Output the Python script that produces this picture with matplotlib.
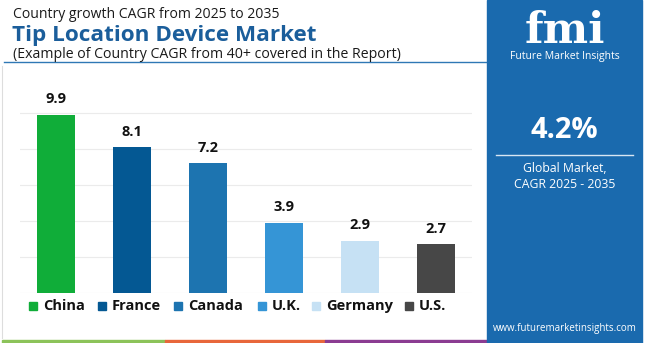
import matplotlib
matplotlib.use("Agg")
import matplotlib.pyplot as plt
from matplotlib.patches import Rectangle

# Country CAGR data, 2025-2035
countries = ["China", "France", "Canada", "U.K.", "Germany", "U.S."]
cagr = [9.9, 8.1, 7.2, 3.9, 2.9, 2.7]
bar_colors = ["#10ad39", "#045893", "#1d74b0", "#3595d6", "#c6e1f4", "#474747"]

global_cagr = "4.2%"
title_top = "Country growth CAGR from 2025 to 2035"
title_main = "Tip Location Device Market"
title_sub = "(Example of Country CAGR from 40+ covered in the Report)"

FONT = "Open Sans"
W, H = 650, 343
fig = plt.figure(figsize=(W / 100, H / 100), dpi=100)
fig.patch.set_facecolor("white")


def px(x, y):
    """pixel coords (origin top-left) -> figure fraction"""
    return x / W, 1 - y / H


# ---- header ----
fig.text(*px(13, 15), title_top, fontsize=10.1, family=FONT, color="#1a1a1a", va="center")
fig.text(*px(12, 35), title_main, fontsize=16.2, family=FONT, fontweight="bold",
         color="#1b5e9b", va="center")
fig.text(*px(13, 54), title_sub, fontsize=10.2, family=FONT, color="#1a1a1a", va="center")
fig.add_artist(plt.Line2D([4 / W, 486 / W], [1 - 62 / H] * 2, color="#2f78b5", lw=1.0))

# left frame line
fig.add_artist(plt.Line2D([2 / W, 2 / W], [1 - 66 / H, 1 - 338 / H], color="#dddddd", lw=0.8))

# ---- bar chart ----
ax = fig.add_axes([20 / W, (H - 293) / H, 452 / W, 198 / H])
x = range(len(countries))
bars = ax.bar(x, cagr, width=0.5, color=bar_colors, zorder=3)
ax.set_xlim(-0.47, len(countries) - 1 + 0.47)
ax.set_ylim(0, 11)
ax.set_yticks([0, 2, 4, 6, 8, 10])
ax.grid(axis="y", color="#ebebeb", lw=0.8, zorder=0)
ax.tick_params(left=False, bottom=False, labelleft=False, labelbottom=False)
for s in ax.spines.values():
    s.set_visible(False)
for b, v in zip(bars, cagr):
    ax.annotate(f"{v:.1f}", (b.get_x() + b.get_width() / 2, v), xytext=(0, 6),
                textcoords="offset points", ha="center", va="bottom",
                fontsize=10.5, fontweight="bold", family=FONT, color="#111111")

# ---- legend row ----
legend_x = [29, 98, 174, 258, 312, 405]
for lx, name, c in zip(legend_x, countries, bar_colors):
    fig.add_artist(Rectangle(px(lx, 310), 8 / W, 8 / H, color=c, transform=fig.transFigure))
    fig.text(*px(lx + 14, 306), name, fontsize=10.5, fontweight="bold", family=FONT,
             color="#111111", va="center")

# ---- bottom stripe ----
for x0, x1, c in [(2, 165, "#8cc35a"), (165, 325, "#e8673b"), (325, 487, "#8b3c92")]:
    fig.add_artist(Rectangle(px(x0, 343), (x1 - x0) / W, 3.5 / H, color=c,
                             transform=fig.transFigure))

# ---- right panel ----
panel_blue = "#1a6aae"
fig.add_artist(Rectangle(px(487, 343), 155 / W, 343 / H, color=panel_blue,
                         transform=fig.transFigure))
cx = 564.5
fig.text(*px(cx, 43), "fmi", fontsize=31, fontweight="bold", family="DejaVu Serif",
         color="white", ha="center", va="baseline")
# horizontal stripes through the logo letters
for yy in range(13, 44, 3):
    fig.add_artist(plt.Line2D([505 / W, 625 / W], [1 - yy / H] * 2, color=panel_blue, lw=0.8))
fig.text(*px(cx, 56), "Future Market Insights", fontsize=7.5, family=FONT, color="white",
         ha="center", va="center")
fig.text(*px(cx, 130), global_cagr, fontsize=21, fontweight="bold", family=FONT,
         color="white", ha="center", va="center")
fig.add_artist(plt.Line2D([496 / W, 633 / W], [1 - 155 / H] * 2, color="#d8e6f3", lw=1.0))
fig.text(*px(cx, 169), "Global Market,", fontsize=8.8, family=FONT, color="white",
         ha="center", va="center")
fig.text(*px(cx, 184), "CAGR 2025 - 2035", fontsize=8.8, family=FONT, color="white",
         ha="center", va="center")
fig.text(*px(cx, 328), "www.futuremarketinsights.com", fontsize=7, family=FONT,
         color="white", ha="center", va="center")

fig.savefig("out.png", dpi=100)
